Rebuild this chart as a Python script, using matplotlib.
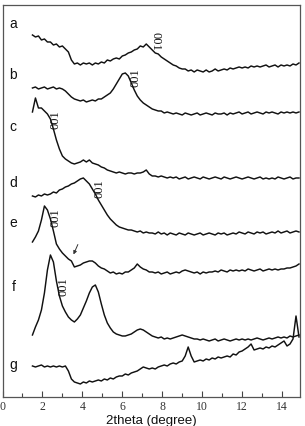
import numpy as np
import matplotlib
matplotlib.use("Agg")
import matplotlib.pyplot as plt
from matplotlib.ticker import MultipleLocator

# ── XRD patterns, stacked (intensity in arbitrary units, offsets included) ──
# scan grid: 1.50 .. 14.85 deg, step 0.15
two_theta = np.round(np.arange(1.5, 14.86, 0.15), 2)

a = [362, 360, 361, 357, 358, 355, 355, 352, 353, 350,
     351, 348, 345, 337, 333, 334, 332, 334, 333, 334,
     332, 334, 333, 335, 334, 337, 336, 338, 339, 338,
     341, 342, 344, 345, 347, 348, 351, 350, 353, 350,
     347, 344, 343, 340, 338, 336, 334, 332, 331, 329,
     328, 328, 326, 327, 325, 327, 326, 325, 327, 325,
     326, 328, 326, 327, 328, 327, 329, 328, 329, 330,
     329, 330, 329, 331, 330, 331, 330, 331, 332, 330,
     331, 332, 330, 332, 331, 332, 331, 333, 332, 334]

b = [309, 310, 308, 309, 310, 308, 309, 310, 308, 309,
     308, 306, 303, 300, 298, 297, 296, 297, 295, 296,
     297, 296, 298, 298, 300, 302, 304, 308, 313, 318,
     323, 324, 321, 314, 307, 301, 297, 294, 292, 290,
     288, 287, 286, 286, 284, 285, 284, 283, 284, 283,
     282, 284, 283, 282, 283, 284, 282, 283, 284, 283,
     282, 284, 283, 283, 284, 282, 284, 283, 284, 285,
     283, 284, 285, 283, 284, 285, 284, 283, 285, 284,
     285, 284, 283, 285, 284, 285, 284, 285, 284, 285]

c = [285, 299, 289, 289, 286, 283, 278, 268, 257, 248,
     241, 238, 236, 234, 233, 234, 235, 237, 235, 237,
     234, 233, 232, 230, 229, 227, 226, 225, 224, 225,
     224, 223, 224, 224, 223, 224, 224, 225, 227, 223,
     221, 221, 220, 221, 220, 219, 220, 219, 220, 218,
     219, 220, 218, 219, 220, 219, 218, 220, 219, 218,
     219, 220, 219, 218, 220, 219, 218, 219, 220, 219,
     218, 219, 220, 219, 218, 219, 220, 218, 219, 218,
     219, 218, 220, 219, 218, 219, 220, 218, 219, 219]

d = [201, 200, 202, 201, 203, 202, 203, 205, 204, 207,
     208, 210, 211, 213, 214, 216, 218, 219, 216, 213,
     208, 203, 197, 192, 187, 182, 178, 175, 172, 170,
     169, 168, 167, 167, 166, 165, 166, 164, 165, 164,
     164, 163, 165, 163, 164, 162, 164, 163, 162, 164,
     163, 162, 164, 163, 162, 163, 164, 162, 163, 164,
     163, 162, 164, 163, 164, 162, 163, 164, 163, 165,
     164, 163, 165, 164, 163, 165, 164, 165, 163, 164,
     165, 164, 166, 164, 165, 166, 164, 165, 166, 165]

e = [155, 160, 166, 177, 191, 187, 178, 166, 153, 148,
     144, 141, 138, 136, 130, 131, 132, 134, 135, 136,
     136, 134, 131, 129, 128, 126, 124, 125, 123, 124,
     123, 125, 125, 127, 129, 133, 130, 128, 127, 125,
     125, 124, 125, 123, 124, 125, 123, 124, 125, 124,
     126, 127, 126, 125, 124, 125, 123, 125, 124, 125,
     125, 126, 125, 127, 126, 125, 127, 126, 127, 126,
     127, 126, 128, 127, 126, 127, 128, 126, 127, 128,
     127, 128, 127, 128, 128, 129, 129, 130, 131, 133]

f = [62, 70, 77, 87, 104, 127, 142, 135, 116, 101,
     91, 85, 80, 77, 75, 78, 82, 89, 96, 104,
     110, 112, 105, 93, 82, 74, 69, 65, 63, 62,
     61, 61, 62, 63, 65, 67, 68, 67, 65, 63,
     61, 60, 59, 60, 58, 59, 58, 59, 60, 61,
     62, 61, 60, 59, 58, 58, 57, 58, 57, 56,
     57, 58, 56, 57, 58, 57, 56, 57, 58, 57,
     58, 57, 58, 57, 58, 59, 58, 57, 58, 59,
     58, 59, 60, 59, 60, 59, 61, 60, 61, 62]

g = [31, 30, 31, 32, 30, 31, 30, 31, 30, 31,
     30, 31, 26, 18, 15, 14, 13, 15, 14, 16,
     15, 16, 17, 16, 18, 17, 19, 18, 20, 21,
     21, 23, 22, 24, 25, 26, 28, 30, 29, 28,
     29, 28, 30, 31, 32, 31, 33, 34, 33, 35,
     36, 41, 50, 41, 35, 36, 37, 36, 38, 37,
     39, 38, 40, 39, 40, 41, 40, 43, 42, 45,
     46, 48, 50, 53, 47, 48, 49, 48, 50, 49,
     51, 50, 52, 54, 56, 51, 53, 58, 81, 60]

patterns = [a, b, c, d, e, f, g]
names = ["a", "b", "c", "d", "e", "f", "g"]
name_levels = [373, 322, 270, 214, 174, 110, 32]

# (001) reflection labels: 2theta, level, rotation
peak_x = [7.64, 6.68, 2.63, 4.85, 2.63, 3.04]
peak_y = [356, 319, 277, 208, 179, 110]
peak_rot = [270, 90, 90, 90, 90, 90]

fig = plt.figure(figsize=(3.05, 4.26), dpi=100)
ax = fig.add_axes([0.0082, 0.0681, 0.9754, 0.9202])

for ys in patterns:
    ax.plot(two_theta, ys, color="#111111", linewidth=1.05)

for name, lvl in zip(names, name_levels):
    ax.text(0.54, lvl, name, ha="center", va="center", fontsize=10,
            family="Liberation Sans", color="#111111")

for px, py, rot in zip(peak_x, peak_y, peak_rot):
    ax.text(px, py, "001", rotation=rot, ha="center", va="center",
            fontsize=9, family="Liberation Serif", color="#111111")

# arrow pointing at the shoulder of pattern e
ax.annotate("", xy=(3.5, 140), xytext=(3.83, 155),
            arrowprops=dict(arrowstyle="-|>", color="#333333", lw=0.7,
                            mutation_scale=5))

ax.set_xlim(0, 14.9)
ax.set_ylim(0, 392)
ax.set_yticks([])
ax.xaxis.set_major_locator(MultipleLocator(2))
ax.xaxis.set_minor_locator(MultipleLocator(1))
ax.tick_params(axis="x", which="major", direction="in", length=4, width=0.8,
               color="#444444", pad=3, labelsize=8.5, labelcolor="#333333")
ax.tick_params(axis="x", which="minor", direction="in", length=3, width=0.8,
               color="#444444")
for lab in ax.get_xticklabels():
    lab.set_family("Liberation Serif")
for sp in ax.spines.values():
    sp.set_color("#555555")
    sp.set_linewidth(0.9)

ax.set_xlabel("2theta (degree)", fontsize=9.5, family="Liberation Sans",
              color="#111111", labelpad=1)

fig.savefig("out.png", dpi=100, facecolor="white")
